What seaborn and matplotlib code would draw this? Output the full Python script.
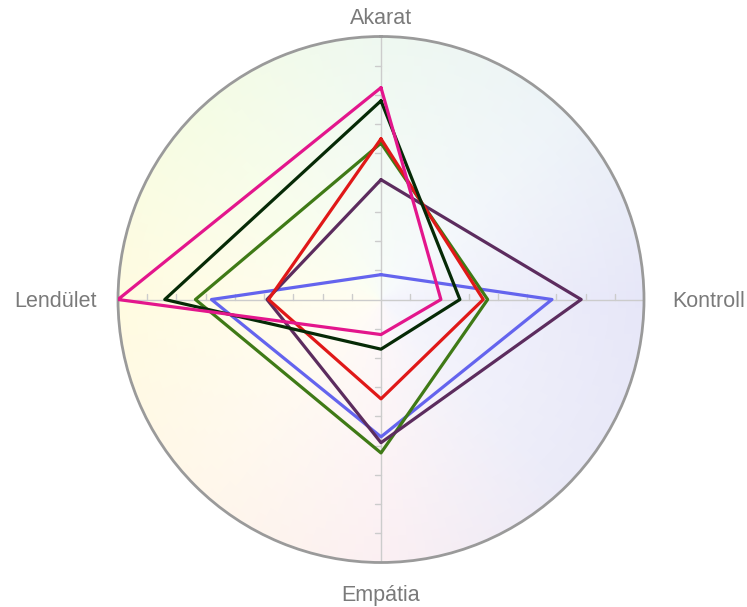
import numpy as np
import pandas as pd
import matplotlib
matplotlib.use("Agg")
import matplotlib.pyplot as plt
import seaborn as sns
from matplotlib.colors import to_rgb

# ---- data ----
axes_labels = ["Akarat", "Kontroll", "Empátia", "Lendület"]
series_names = ["kék", "olajzöld", "lila", "piros", "sötétzöld", "magenta"]
series_colors = ["#6464ee", "#3f7a16", "#5c2c5e", "#e01818", "#062a06", "#e3168c"]
blue_vals = [0.85, 5.85, 4.7, 5.8]
olive_vals = [5.35, 3.65, 5.25, 6.35]
purple_vals = [4.1, 6.85, 4.9, 3.9]
red_vals = [5.5, 3.5, 3.4, 3.85]
dark_vals = [6.8, 2.7, 1.7, 7.4]
magenta_vals = [7.25, 2.05, 1.2, 9.0]
all_vals = [blue_vals, olive_vals, purple_vals, red_vals, dark_vals, magenta_vals]
r_max = 9
tick_values = [1, 2, 3, 4, 5, 6, 7, 8]

sns.set_theme(style="white")
plt.rcParams["font.family"] = ["Liberation Sans", "DejaVu Sans"]

fig = plt.figure(figsize=(7.47, 6.07), dpi=100)
ax = fig.add_axes([118 / 747, (607 - 562.5) / 607, 526 / 747, 526 / 607], projection="polar")
ax.set_theta_zero_location("N")
ax.set_theta_direction(-1)
ax.set_ylim(0, r_max)
ax.grid(False)
ax.set_xticks([])
ax.set_yticks([])
ax.spines["polar"].set_color("#9a9a9a")
ax.spines["polar"].set_linewidth(2.0)

# ---- background gradient ----
stops_deg = np.array([0, 45, 90, 135, 180, 225, 270, 315, 360])
stop_cols = ["#eef8f0", "#edf3f8", "#e6e6f8", "#eaeaf8", "#fbeff2", "#fff7ea",
             "#fffbe0", "#f5fce4", "#eef8f0"]
stop_rgb = np.array([to_rgb(c) for c in stop_cols])
th = np.linspace(0, 2 * np.pi, 181)
rr = np.linspace(0, r_max, 31)
thc = (th[:-1] + th[1:]) / 2
rc = (rr[:-1] + rr[1:]) / 2
deg = np.degrees(thc)
base = np.stack([np.interp(deg, stops_deg, stop_rgb[:, k]) for k in range(3)], axis=-1)
t = 0.4 + 0.6 * (rc / r_max)
C = 1 - (1 - base[None, :, :]) * t[:, None, None]
T, R = np.meshgrid(th, rr)
ax.pcolormesh(T, R, C, shading="flat", zorder=0, rasterized=True)

# ---- axis lines and ticks ----
angles = np.arange(len(axes_labels)) * 2 * np.pi / len(axes_labels)
px_per_unit = 263 / r_max
tick_len = 6 / px_per_unit
tick_side = [-1, -1, 1, 1]
for i, a in enumerate(angles):
    ax.plot([a, a], [0, r_max], color="#cccccc", lw=1.0, zorder=1)
    for tv in tick_values:
        rr2 = np.hypot(tv, tick_len)
        da = np.arctan2(tick_len, tv)
        ax.plot([a, a + tick_side[i] * da], [tv, rr2], color="#cccccc", lw=1.0, zorder=1)

# ---- series ----
rows = []
for name, vals in zip(series_names, all_vals):
    closed = list(vals) + [vals[0]]
    closed_ang = list(angles) + [angles[0]]
    for k, (a, v) in enumerate(zip(closed_ang, closed)):
        rows.append({"sorozat": name, "szog": a, "ertek": v, "sorrend": k})
df = pd.DataFrame(rows)
for name, col in zip(series_names, series_colors):
    sub = df[df["sorozat"] == name]
    sns.lineplot(data=sub, x="szog", y="ertek", sort=False, estimator=None,
                 color=col, lw=2.3, ax=ax, zorder=3)
ax.set_xlabel("")
ax.set_ylabel("")
ax.set_ylim(0, r_max)

# ---- labels ----
lab_kw = dict(color="#7a7a7a", fontsize=15.5, ha="center", va="center")
fig.text(381 / 747, 1 - 18 / 607, axes_labels[0], **lab_kw)
fig.text(709 / 747, 1 - 302 / 607, axes_labels[1], **lab_kw)
fig.text(381 / 747, 1 - 595 / 607, axes_labels[2], **lab_kw)
fig.text(56 / 747, 1 - 302 / 607, axes_labels[3], **lab_kw)

fig.savefig("out.png", dpi=100)
